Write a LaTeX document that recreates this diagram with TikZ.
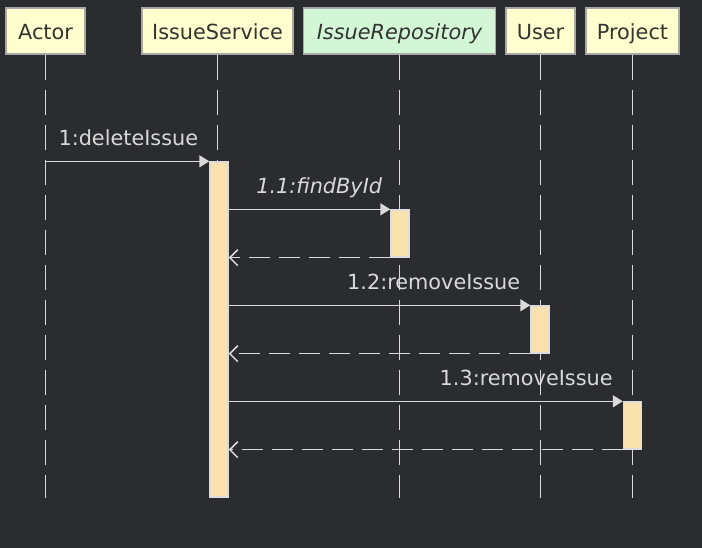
\documentclass[tikz,border=0pt]{standalone}
\usepackage{fontspec}
\setmainfont{DejaVu Sans}
\usetikzlibrary{arrows.meta}
\definecolor{bg}{HTML}{2B2C30}
\definecolor{headfill}{HTML}{FEFECE}
\definecolor{repofill}{HTML}{D3F7D6}
\definecolor{headborder}{HTML}{A8A8A8}
\definecolor{headtext}{HTML}{333333}
\definecolor{linec}{HTML}{D9D9D9}
\definecolor{barfill}{HTML}{FBE1AD}
\definecolor{barborder}{HTML}{DCDCDC}
\tikzset{
  head/.style={draw=headborder, line width=1.2pt, fill=headfill, inner sep=0pt,
    minimum height=46pt, text height=18pt, text depth=0pt, text=headtext,
    font=\fontsize{20.8}{24}\selectfont},
  life/.style={draw=linec, line width=1.5pt, dash pattern=on 25pt off 10pt},
  actbar/.style={draw=barborder, line width=1.4pt, fill=barfill, inner sep=0pt,
    minimum width=18pt},
  msg/.style={draw=linec, line width=1.5pt, -{Triangle[length=10pt,width=12pt]}},
  ret/.style={draw=linec, line width=1.5pt, dash pattern=on 21pt off 9pt,
    -{Straight Barb[length=8pt,width=16pt,line width=1.5pt]}},
  lbl/.style={text=linec, inner sep=0pt, anchor=base east,
    font=\fontsize{20.8}{24}\selectfont},
}
\begin{document}
\begin{tikzpicture}[x=1pt,y=-1pt]
\fill[bg] (0,0) rectangle (702,548);
\useasboundingbox (0,0) rectangle (702,548);
% headers
\node[head, minimum width=79pt] (actor) at (45.5,31) {Actor};
\node[head, minimum width=151pt] (svc) at (217.5,31) {IssueService};
\node[head, fill=repofill, minimum width=192pt] (repo) at (399.5,31) {\itshape IssueRepository};
\node[head, minimum width=69pt] (user) at (540.5,31) {User};
\node[head, minimum width=93pt] (proj) at (632.5,31) {Project};
% lifeline ends
\coordinate (actorE) at (actor.south |- 0,498);
\coordinate (svcE) at (svc.south |- 0,498);
\coordinate (repoE) at (repo.south |- 0,498);
\coordinate (userE) at (user.south |- 0,498);
\coordinate (projE) at (proj.south |- 0,498);
\draw[life] (actor.south) -- (actorE);
\draw[life] (svc.south) -- (svcE);
\draw[life] (repo.south) -- (repoE);
\draw[life] (user.south) -- (userE);
\draw[life] (proj.south) -- (projE);
% activation bars
\node[actbar, minimum height=335pt] (sbar) at (219,329.5) {};
\node[actbar, minimum height=47pt] (rbar) at (400,233.5) {};
\node[actbar, minimum height=47pt] (ubar) at (540,329.5) {};
\node[actbar, minimum height=47pt] (pbar) at (632.5,425.5) {};
% messages
\coordinate (a1) at (actor.south |- sbar.north);
\draw[msg] (a1) -- (sbar.north west);
\node[lbl] (l1) at ([xshift=-11pt,yshift=16pt]sbar.north west) {1:deleteIssue};

\draw[msg] (sbar.east |- rbar.north) -- (rbar.north west);
\node[lbl] (l2) at ([xshift=-8pt,yshift=16pt]rbar.north west) {\itshape 1.1:findById};
\draw[ret] (rbar.south west) -- (sbar.east |- rbar.south);

\draw[msg] (sbar.east |- ubar.north) -- (ubar.north west);
\node[lbl] (l3) at ([xshift=-10pt,yshift=16pt]ubar.north west) {1.2:removeIssue};
\draw[ret] (ubar.south west) -- (sbar.east |- ubar.south);

\draw[msg] (sbar.east |- pbar.north) -- (pbar.north west);
\node[lbl] (l4) at ([xshift=-10pt,yshift=16pt]pbar.north west) {1.3:removeIssue};
\draw[ret] (pbar.south west) -- (sbar.east |- pbar.south);
\end{tikzpicture}
\end{document}
